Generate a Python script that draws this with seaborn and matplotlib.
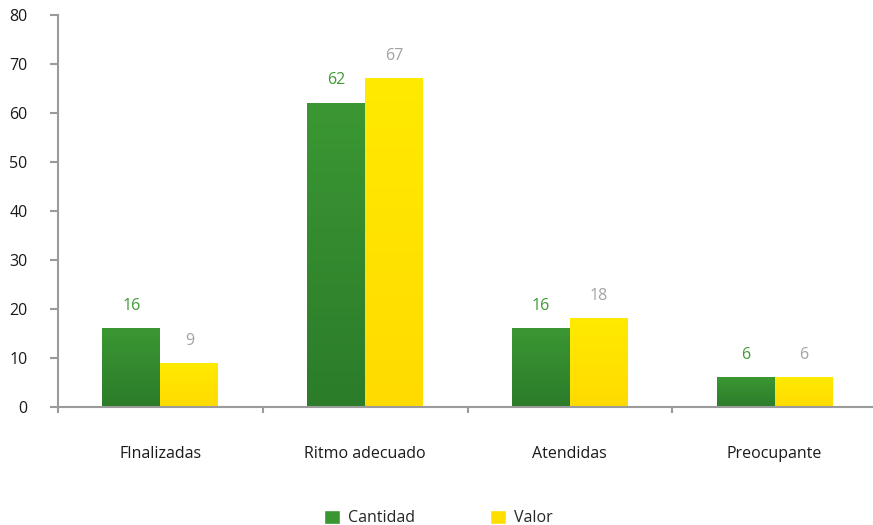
import pandas as pd
import numpy as np
import matplotlib
matplotlib.use('Agg')
import matplotlib.pyplot as plt
from matplotlib.colors import LinearSegmentedColormap
from matplotlib.patches import Patch
import seaborn as sns

# data
categorias = ['FInalizadas', 'Ritmo adecuado', 'Atendidas', 'Preocupante']
cantidad = [16, 62, 16, 6]
valor = [8.8, 67, 18, 6]
series = ['Cantidad', 'Valor']

df = pd.DataFrame({
    'categoria': categorias * 2,
    'serie': ['Cantidad'] * 4 + ['Valor'] * 4,
    'valor': cantidad + valor,
})

sns.set_style('white')
plt.rcParams['font.family'] = ['Open Sans', 'DejaVu Sans']

grey = '#9b9b9b'
fs = 11.5
green_top, green_bot = '#3b9733', '#2c7c2a'
yellow_top, yellow_bot = '#ffea00', '#ffdb00'

fig = plt.figure(figsize=(8.73, 5.25), dpi=100)
ax = fig.add_axes([58 / 873, 1 - 407 / 525, (877 - 58) / 873, (407 - 15) / 525])

sns.barplot(data=df, x='categoria', y='valor', hue='serie', order=categorias,
            hue_order=series, palette=[green_top, yellow_top], width=0.566,
            gap=0, ax=ax, legend=False, saturation=1, edgecolor='none')

# gradient fill on every bar
cmaps = {
    'Cantidad': LinearSegmentedColormap.from_list('g', [green_bot, green_top]),
    'Valor': LinearSegmentedColormap.from_list('y', [yellow_bot, yellow_top]),
}
grad = np.linspace(0, 1, 100).reshape(-1, 1)
for container, name in zip(ax.containers, series):
    for bar in container:
        x0, y0 = bar.get_x(), bar.get_y()
        w, h = bar.get_width(), bar.get_height()
        ax.imshow(grad, extent=(x0, x0 + w, y0, y0 + h), origin='lower',
                  cmap=cmaps[name], aspect='auto', zorder=2)
        bar.set_alpha(0)

# value labels
for container, name, col in zip(ax.containers, series, ['#3f9a35', '#a3a3a3']):
    for bar in container:
        h = bar.get_height()
        ax.annotate(f'{round(h):d}', (bar.get_x() + bar.get_width() / 2, h),
                    xytext=(0, 16.5), textcoords='offset points',
                    ha='center', va='center', color=col, fontsize=fs)

ax.set_xlim(-0.5, 3.5)
ax.set_ylim(0, 80)
ax.set_yticks(range(0, 81, 10))
ax.set_xlabel('')
ax.set_ylabel('')

sns.despine(ax=ax)
for s in ['left', 'bottom']:
    ax.spines[s].set_color(grey)
    ax.spines[s].set_linewidth(1.5)
ax.spines['bottom'].set_zorder(5)

ax.tick_params(axis='y', length=5.8, width=1.5, color=grey, pad=16,
               labelsize=fs, labelcolor='#1a1a1a', left=True)
ax.set_xticks([-0.5, 0.5, 1.5, 2.5], minor=True)
ax.tick_params(axis='x', which='minor', length=4.5, width=1.5, color=grey,
               bottom=True)
ax.tick_params(axis='x', which='major', length=0, pad=28, labelsize=fs,
               labelcolor='#1a1a1a')

handles = [Patch(facecolor='#3a9632', label='Cantidad'),
           Patch(facecolor='#ffde00', label='Valor')]
fig.legend(handles=handles, loc='lower center', bbox_to_anchor=(0.502, -0.03),
           ncol=2, frameon=False, fontsize=fs, handlelength=1.0,
           handleheight=1.0, handletextpad=0.5, columnspacing=4.7)

plt.savefig('out.png', dpi=100)
